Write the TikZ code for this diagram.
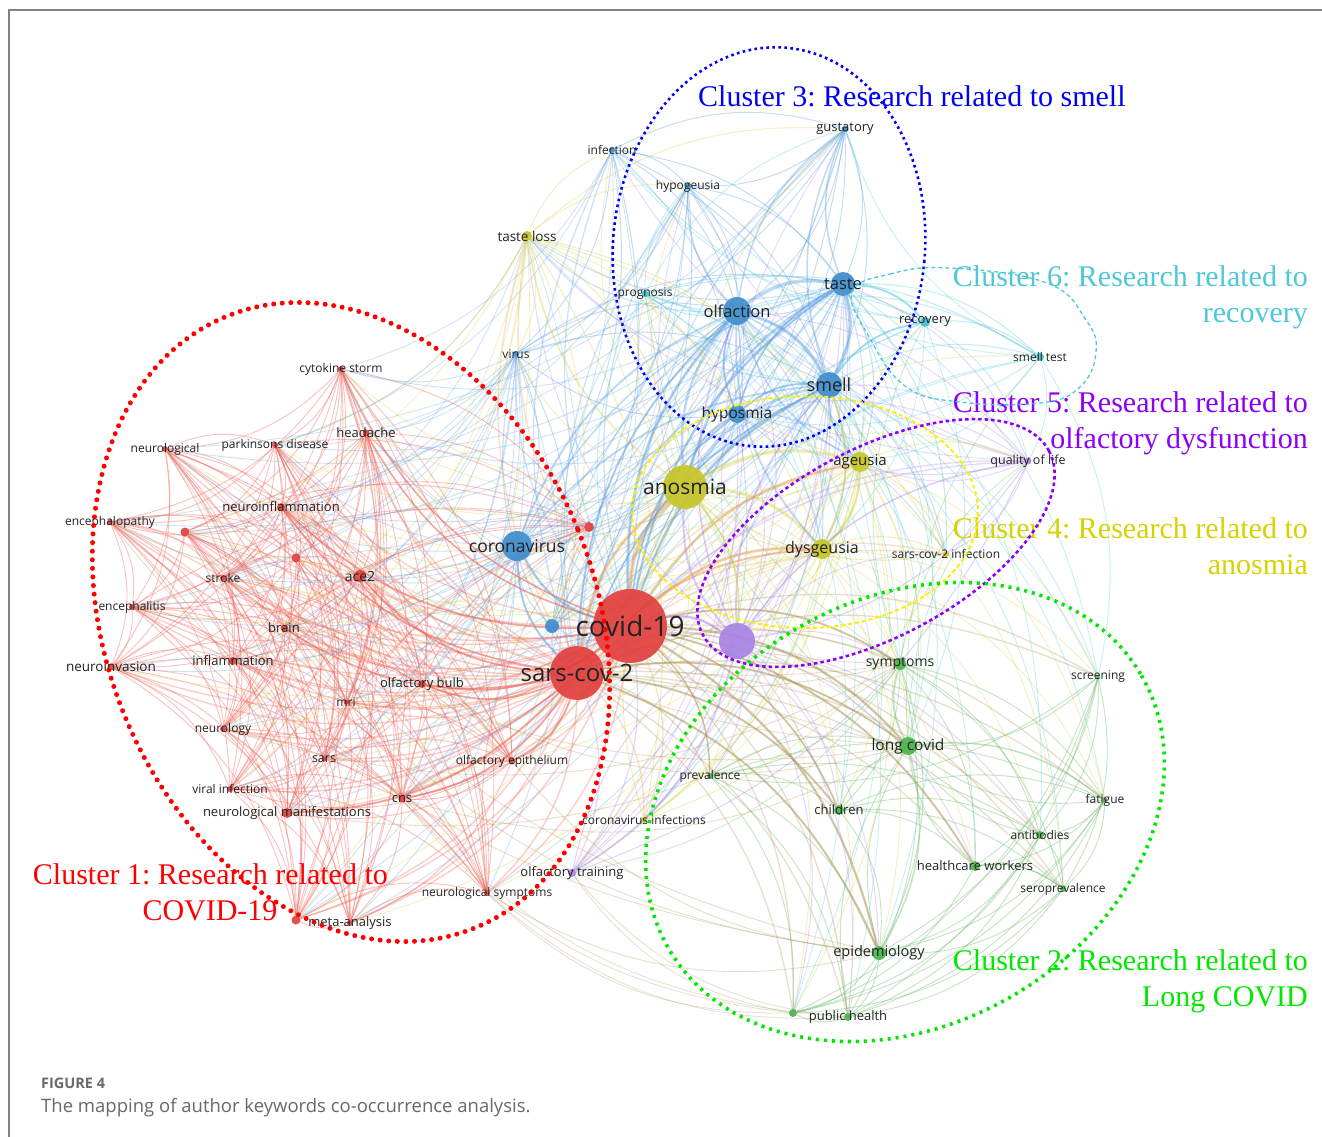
\documentclass[tikz,border=0pt]{standalone}
\usepackage{fontspec}
\setmainfont{Open Sans}
\newfontfamily\titlefont{Liberation Serif}
\frenchspacing

% node fills
\definecolor{nRed}{RGB}{225,62,60}
\definecolor{nBlue}{RGB}{62,140,205}
\definecolor{nYel}{RGB}{198,196,40}
\definecolor{nGreen}{RGB}{72,178,72}
\definecolor{nPurp}{RGB}{168,130,228}
\definecolor{nCyan}{RGB}{62,192,208}
% link colours
\definecolor{eRed}{RGB}{240,95,85}
\definecolor{eBlue}{RGB}{95,160,225}
\definecolor{eYel}{RGB}{212,208,60}
\definecolor{eGreen}{RGB}{100,185,100}
\definecolor{ePurp}{RGB}{170,125,240}
\definecolor{eCyan}{RGB}{75,200,215}
\definecolor{eOlive}{RGB}{175,150,90}
\definecolor{eOrange}{RGB}{230,160,80}
% cluster outlines and titles
\definecolor{cRed}{RGB}{255,0,0}
\definecolor{cBlue}{RGB}{0,0,245}
\definecolor{cGreen}{RGB}{0,232,0}
\definecolor{cPurp}{RGB}{140,0,250}
\definecolor{cYel}{RGB}{250,240,0}
\definecolor{tYel}{RGB}{215,210,0}
\definecolor{cCyan}{RGB}{78,200,214}
\definecolor{labcol}{RGB}{35,35,35}
\definecolor{capgray}{RGB}{105,105,105}
\definecolor{framegray}{RGB}{130,130,130}

\pgfdeclarelayer{paper}
\pgfdeclarelayer{edges}
\pgfdeclarelayer{labels}
\pgfdeclarelayer{top}
\pgfsetlayers{paper,edges,main,labels,top}

\tikzset{
  kwdot/.style={circle, draw=none, inner sep=0pt, fill opacity=0.92},
  kwlab/.style={inner sep=0pt, text=labcol},
  link/.style={draw=#1, draw opacity=0.38, line width=0.9pt},
  xlink/.style={draw=#1, draw opacity=0.3, line width=0.9pt},
  hublink/.style={draw=#1, draw opacity=0.4},
  cltitle/.style={inner sep=0pt, font=\titlefont\fontsize{30}{36}\selectfont},
  redring/.style={draw=cRed, line width=5pt, line cap=round, dash pattern=on 0pt off 8.6pt},
  bluering/.style={draw=cBlue, line width=2.6pt, dash pattern=on 2.6pt off 3.4pt},
  greenring/.style={draw=cGreen, line width=3.6pt, dash pattern=on 3pt off 5pt},
  purpring/.style={draw=cPurp, line width=2.6pt, dash pattern=on 3.5pt off 3pt},
  yelring/.style={draw=cYel, line width=2pt, dash pattern=on 4pt off 3pt},
  cyanring/.style={draw=cCyan, line width=1.3pt, dash pattern=on 4pt off 3pt},
}

% keyword: name, x, y, diameter, fill, label, font size
\newcommand\kw[7]{%
  \node[kwdot, fill=#5, minimum size=#4pt] (#1) at (#2,#3) {};
  \begin{pgfonlayer}{labels}
    \node[kwlab, font=\fontsize{#7}{#7}\selectfont] (#1-l) at (#2,#3) {#6};
  \end{pgfonlayer}}
% keyword whose label is hidden
\newcommand\kwu[5]{%
  \node[kwdot, fill=#5, minimum size=#4pt] (#1) at (#2,#3) {};}

% links inside one cluster: list, colour, how many of ten pairs are kept
\newcommand\mesh[3]{%
  \foreach \ea [count=\ci] in {#1}{%
    \foreach \eb [count=\cj] in {#1}{%
      \ifnum\cj>\ci
        \pgfmathtruncatemacro\kk{mod(\ci*7+\cj*11,10)}%
        \ifnum\kk<#3 \draw[link=#2] (\ea) to[bend left=22] (\eb);\fi
      \fi}}}
% links from hubs to a set of keywords: hubs, targets, colour, kept of ten, width
\newcommand\hubs[5]{%
  \foreach \hb [count=\ci] in {#1}{%
    \foreach \tg [count=\cj] in {#2}{%
      \edef\ta{\hb}\edef\tb{\tg}%
      \ifx\ta\tb\else
        \pgfmathtruncatemacro\kk{mod(\ci*3+\cj*7,10)}%
        \ifnum\kk<#4 \draw[xlink=#3, line width=#5pt] (\hb) to[bend left=22] (\tg);\fi
      \fi}}}

\begin{document}
\begin{tikzpicture}[x=1pt, y=-1pt]
\useasboundingbox (0,0) rectangle (1322,1137);
\begin{pgfonlayer}{paper}
\fill[white] (0,0) rectangle (1322,1137);
% page frame
\draw[framegray, line width=1.8pt] (9,1137) -- (9,10) -- (1322,10);
\end{pgfonlayer}

% ---------- keywords ----------
% cluster 1 (red)
\kw{covid}{630}{626}{74}{nRed}{covid-19}{28}
\kw{sarscov}{577}{673}{54}{nRed}{sars-cov-2}{24}
\kw{cytokine}{341}{369}{6}{nRed}{cytokine storm}{12}
\kw{headache}{366}{433}{7}{nRed}{headache}{13}
\kw{neurological}{165}{449}{6}{nRed}{neurological}{12}
\kw{parkinsons}{275}{445}{6}{nRed}{parkinsons disease}{12}
\kw{neuroinfl}{281}{507}{8}{nRed}{neuroinflammation}{13}
\kw{enceph}{110}{522}{6}{nRed}{encephalopathy}{12}
\kwu{rA}{185}{532}{9}{nRed}
\kw{stroke}{223}{578}{6}{nRed}{stroke}{12}
\kwu{rB}{296}{558}{9}{nRed}
\kw{ace}{360}{576}{12}{nRed}{ace2}{14}
\kw{encephalitis}{132}{607}{6}{nRed}{encephalitis}{12}
\kw{brain}{284}{628}{7}{nRed}{brain}{13}
\kw{neuroinv}{111}{667}{7}{nRed}{neuroinvasion}{13.5}
\kw{inflam}{233}{661}{8}{nRed}{inflammation}{13}
\kw{obulb}{422}{684}{8}{nRed}{olfactory bulb}{13}
\kw{mri}{346}{702}{5}{nRed}{mri}{12}
\kw{neurology}{223}{729}{6}{nRed}{neurology}{12}
\kw{sars}{324}{759}{5}{nRed}{sars}{12.5}
\kw{oepith}{512}{761}{7}{nRed}{olfactory epithelium}{12}
\kw{viralinf}{230}{789}{6}{nRed}{viral infection}{12}
\kw{cns}{402}{799}{7}{nRed}{cns}{13}
\kw{neuroman}{287}{813}{10}{nRed}{neurological manifestations}{13}
\kw{meta}{350}{923}{6}{nRed}{meta-analysis}{13}
\kwu{rC}{296}{920}{9}{nRed}
\kw{neurosym}{487}{893}{6}{nRed}{neurological symptoms}{12}
\kwu{rD}{589}{527}{10}{nRed}
% cluster 3 (blue)
\kw{infection}{612}{150}{6}{nBlue}{infection}{12}
\kw{gustatory}{845}{129}{7}{nBlue}{gustatory}{13}
\kw{hypogeusia}{688}{186}{7}{nBlue}{hypogeusia}{12}
\kw{taste}{843}{284}{24}{nBlue}{taste}{16.5}
\kw{olfaction}{737}{311}{28}{nBlue}{olfaction}{16.5}
\kw{smell}{829}{385}{26}{nBlue}{smell}{18}
\kw{hyposmia}{737}{414}{18}{nBlue}{hyposmia}{15.5}
\kw{coronavirus}{517}{546}{30}{nBlue}{coronavirus}{17.5}
\kw{virus}{516}{354}{6}{nBlue}{virus}{12}
\kwu{bA}{552}{626}{14}{nBlue}
% cluster 4 (yellow)
\kw{tasteloss}{527}{236}{10}{nYel}{taste loss}{13.5}
\kw{anosmia}{685}{487}{44}{nYel}{anosmia}{21}
\kw{ageusia}{860}{462}{20}{nYel}{ageusia}{15}
\kw{dysgeusia}{822}{549}{20}{nYel}{dysgeusia}{16}
\kw{sc2inf}{946}{554}{6}{nYel}{sars-cov-2 infection}{12}
\kw{covinf}{644}{820}{6}{nYel}{coronavirus infections}{12}
% cluster 5 (purple)
\kwu{pA}{737}{641}{36}{nPurp}
\kw{qol}{1028}{461}{7}{nPurp}{quality of life}{12.5}
\kw{otrain}{572}{873}{8}{nPurp}{olfactory training}{13}
% cluster 6 (cyan)
\kw{prognosis}{645}{294}{7}{nCyan}{prognosis}{12}
\kw{recovery}{925}{322}{10}{nCyan}{recovery}{13}
\kw{smelltest}{1040}{357}{8}{nCyan}{smell test}{12}
% cluster 2 (green)
\kw{symptoms}{900}{664}{12}{nGreen}{symptoms}{14}
\kw{screening}{1098}{677}{4}{nGreen}{screening}{12}
\kw{longcovid}{908}{746}{18}{nGreen}{long covid}{15.5}
\kw{prevalence}{710}{776}{6}{nGreen}{prevalence}{12}
\kw{children}{839}{810}{10}{nGreen}{children}{13}
\kw{fatigue}{1105}{800}{5}{nGreen}{fatigue}{12}
\kw{antibodies}{1040}{835}{8}{nGreen}{antibodies}{12}
\kw{hcw}{975}{866}{10}{nGreen}{healthcare workers}{13}
\kw{seroprev}{1063}{889}{6}{nGreen}{seroprevalence}{12}
\kw{epidem}{879}{953}{14}{nGreen}{epidemiology}{14.5}
\kw{pubhealth}{848}{1017}{8}{nGreen}{public health}{13}
\kwu{gA}{793}{1013}{8}{nGreen}

% ---------- co-occurrence links ----------
\begin{pgfonlayer}{edges}
\mesh{cytokine,headache,neurological,parkinsons,neuroinfl,enceph,rA,stroke,rB,ace,encephalitis,brain,neuroinv,inflam,obulb,mri,neurology,sars,oepith,viralinf,cns,neuroman,meta,rC,neurosym,rD}{eRed}{7}
\mesh{infection,gustatory,hypogeusia,hyposmia,virus,bA,taste,olfaction,smell,coronavirus}{eBlue}{10}
\mesh{tasteloss,ageusia,dysgeusia,sc2inf,covinf,anosmia}{eYel}{10}
\mesh{symptoms,screening,prevalence,children,fatigue,antibodies,hcw,seroprev,epidem,pubhealth,gA,longcovid}{eGreen}{8}
\mesh{prognosis,recovery,smelltest}{eCyan}{10}
\mesh{qol,otrain,pA}{ePurp}{10}

\hubs{covid,sarscov}{cytokine,headache,neurological,parkinsons,neuroinfl,enceph,rA,stroke,rB,ace,encephalitis,brain,neuroinv,inflam,obulb,mri,neurology,sars,oepith,viralinf,cns,neuroman,meta,rC,neurosym,rD}{eRed}{10}{1.4}
\hubs{covid,sarscov}{infection,gustatory,hypogeusia,hyposmia,virus,bA,taste,olfaction,smell,coronavirus}{eBlue}{10}{1.3}
\hubs{covid,sarscov}{tasteloss,ageusia,dysgeusia,sc2inf,covinf,anosmia}{eOrange}{10}{1.4}
\hubs{covid,sarscov}{symptoms,screening,prevalence,children,fatigue,antibodies,hcw,seroprev,epidem,pubhealth,gA,longcovid}{eOlive}{10}{1.3}
\hubs{covid,sarscov}{qol,otrain,pA}{ePurp}{10}{1.3}
\hubs{covid,sarscov}{prognosis,recovery,smelltest}{eCyan}{10}{1}
\hubs{olfaction,smell,taste}{cytokine,headache,neurological,parkinsons,neuroinfl,enceph,rA,stroke,rB,ace,encephalitis,brain,neuroinv,inflam,obulb,mri,neurology,sars,oepith,viralinf,cns,neuroman,meta,rC,neurosym,rD}{eBlue}{3}{0.9}
\hubs{coronavirus,virus}{cytokine,headache,neurological,parkinsons,neuroinfl,enceph,rA,stroke,rB,ace,encephalitis,brain,neuroinv,inflam,obulb,mri,neurology,sars,oepith,viralinf,cns,neuroman,meta,rC,neurosym,rD}{eBlue}{6}{0.9}
\hubs{infection,hypogeusia,gustatory,tasteloss}{cytokine,headache,neurological,parkinsons,neuroinfl,enceph,stroke,ace,brain,neuroinv,obulb,cns,neuroman,oepith}{eBlue}{2}{0.8}
\hubs{olfaction,smell,taste,hyposmia}{tasteloss,ageusia,dysgeusia,sc2inf,covinf,anosmia}{eBlue}{8}{1.1}
\hubs{olfaction,smell,taste}{prognosis,recovery,smelltest}{eCyan}{10}{1.1}
\hubs{olfaction,smell,taste}{symptoms,screening,prevalence,children,fatigue,antibodies,hcw,seroprev,epidem,pubhealth,gA,longcovid}{eCyan}{4}{0.9}
\hubs{olfaction,smell,taste,hyposmia}{qol,otrain,pA}{ePurp}{10}{1}
\hubs{anosmia,ageusia,dysgeusia,tasteloss}{cytokine,headache,neurological,parkinsons,neuroinfl,enceph,rA,stroke,rB,ace,encephalitis,brain,neuroinv,inflam,obulb,mri,neurology,sars,oepith,viralinf,cns,neuroman,meta,rC,neurosym,rD}{eYel}{3}{0.9}
\hubs{anosmia,ageusia,dysgeusia}{symptoms,screening,prevalence,children,fatigue,antibodies,hcw,seroprev,epidem,pubhealth,gA,longcovid}{eYel}{5}{0.9}
\hubs{anosmia,tasteloss}{infection,gustatory,hypogeusia,hyposmia,virus,bA}{eYel}{10}{1}
\hubs{anosmia,ageusia}{qol,otrain,pA,prognosis,recovery,smelltest}{eYel}{8}{1}
\hubs{pA}{symptoms,screening,prevalence,children,fatigue,antibodies,hcw,seroprev,epidem,pubhealth,gA,longcovid}{ePurp}{7}{1}
\hubs{pA,qol}{tasteloss,ageusia,dysgeusia,sc2inf,infection,gustatory,hypogeusia,hyposmia}{ePurp}{7}{0.9}
\hubs{longcovid,symptoms,epidem}{cytokine,headache,neurological,parkinsons,neuroinfl,enceph,stroke,ace,brain,inflam,obulb,neurology,oepith,cns,neuroman,neurosym}{eOlive}{3}{0.9}
\hubs{longcovid,symptoms}{prognosis,recovery,smelltest,qol,otrain}{eGreen}{7}{0.9}
\hubs{recovery,smelltest,prognosis}{infection,gustatory,hypogeusia,hyposmia,ageusia,dysgeusia,qol,screening,symptoms,longcovid}{eCyan}{6}{0.9}
% long arcs below the red cluster
\hubs{gA,pubhealth}{neurosym,cns,otrain}{eOlive}{10}{0.8}

% stronger links
\foreach \ea/\eb/\cl/\lw in {
  covid/sarscov/eRed/5, covid/anosmia/eOrange/4, sarscov/anosmia/eOrange/3,
  covid/olfaction/eBlue/3, covid/smell/eBlue/2.5, covid/taste/eBlue/2.5,
  olfaction/smell/eBlue/3.5, olfaction/taste/eBlue/3.5, taste/smell/eBlue/3.5,
  anosmia/ageusia/eYel/3, anosmia/dysgeusia/eYel/3, ageusia/dysgeusia/eYel/2.5,
  anosmia/olfaction/eBlue/2.5, anosmia/smell/eBlue/2.5, anosmia/hyposmia/eBlue/2,
  hyposmia/olfaction/eBlue/2, hyposmia/smell/eBlue/2, covid/coronavirus/eBlue/2.5,
  sarscov/coronavirus/eBlue/2, coronavirus/olfaction/eBlue/2, covid/pA/ePurp/2.5,
  covid/longcovid/eOlive/2.5, sarscov/longcovid/eOlive/2, covid/epidem/eOlive/2.5,
  sarscov/children/eOlive/2, covid/hcw/eOlive/2, covid/dysgeusia/eOrange/3,
  sarscov/dysgeusia/eOrange/2, covid/ageusia/eOrange/2.5, cns/oepith/eRed/2.5,
  sarscov/cns/eRed/2, sarscov/neuroman/eRed/2, covid/neuroinfl/eRed/2,
  sarscov/ace/eRed/2, covid/obulb/eRed/2, taste/recovery/eCyan/2,
  smell/recovery/eCyan/2, pA/anosmia/ePurp/2, longcovid/symptoms/eGreen/2,
  longcovid/fatigue/eGreen/1.5, taste/gustatory/eBlue/1.5, smell/dysgeusia/eYel/2,
  covid/symptoms/eOlive/2, sarscov/oepith/eRed/2, covid/prevalence/eOlive/1.5,
  olfaction/gustatory/eBlue/1.5, smell/gustatory/eBlue/1.5, olfaction/hypogeusia/eBlue/1.5,
  coronavirus/smell/eBlue/1.8, coronavirus/taste/eBlue/1.5, anosmia/taste/eBlue/2,
  hyposmia/taste/eBlue/1.8, anosmia/tasteloss/eYel/1.5, dysgeusia/olfaction/eBlue/1.8,
  ageusia/smell/eBlue/1.8, ageusia/olfaction/eBlue/1.5, sarscov/olfaction/eBlue/2,
  sarscov/smell/eBlue/1.8, covid/hyposmia/eBlue/1.8, sarscov/epidem/eOlive/2,
  covid/children/eOlive/1.8, sarscov/neuroinfl/eRed/1.8, covid/headache/eRed/1.5,
  sarscov/brain/eRed/1.5, covid/cytokine/eRed/1.5, sarscov/obulb/eRed/1.8,
  pA/smell/ePurp/1.8, pA/olfaction/ePurp/1.5, pA/otrain/ePurp/1.8, pA/qol/ePurp/1.5,
  longcovid/epidem/eGreen/1.5, hcw/seroprev/eGreen/1.2, anosmia/pA/eYel/1.8}
  {\draw[hublink=\cl, line width=\lw pt] (\ea) to[bend left=22] (\eb);}
\end{pgfonlayer}

% ---------- cluster titles ----------
\begin{pgfonlayer}{top}
\node[cltitle, text=cBlue, anchor=base west] (t3) at (698,107) {Cluster 3: Research related to smell};
\node[cltitle, text=cCyan, anchor=base east] (t6a) at (1308,286) {Cluster 6: Research related to};
\node[cltitle, text=cCyan, anchor=base east] (t6b) at (1308,322) {recovery};
\node[cltitle, text=cPurp, anchor=base east] (t5a) at (1308,412) {Cluster 5: Research related to};
\node[cltitle, text=cPurp, anchor=base east] (t5b) at (1308,448) {olfactory dysfunction};
\node[cltitle, text=tYel, anchor=base east] (t4a) at (1308,538) {Cluster 4: Research related to};
\node[cltitle, text=tYel, anchor=base east] (t4b) at (1308,574) {anosmia};
\node[cltitle, text=cGreen, anchor=base east] (t2a) at (1308,970) {Cluster 2: Research related to};
\node[cltitle, text=cGreen, anchor=base east] (t2b) at (1308,1006) {Long COVID};
\node[cltitle, text=cRed, anchor=base east] (t1a) at (388,884) {Cluster 1: Research related to};
\node[cltitle, text=cRed, anchor=base] (t1b) at (210,920) {COVID-19};

% ---------- cluster outlines ----------
\draw[redring, rotate around={22:(351,622)}] (351,622) ellipse [x radius=245, y radius=330];
\draw[bluering, rotate around={-5:(769,247)}] (769,247) ellipse [x radius=156, y radius=200];
\draw[yelring] (805,512) ellipse [x radius=173, y radius=116];
\draw[purpring, rotate around={28:(876,543)}] (876,543) ellipse [x radius=196, y radius=94];
\draw[greenring, rotate around={30:(905,812)}] (905,812) ellipse [x radius=273, y radius=213];
\draw[cyanring] plot[smooth cycle, tension=0.7] coordinates {
  (852,292) (890,274) (950,268) (1047,283) (1086,320) (1096,352)
  (1080,387) (1040,403) (960,402) (905,386) (868,335)};

% ---------- caption ----------
\node[anchor=base west, inner sep=0pt, text=capgray, font=\fontsize{14.5}{14.5}\selectfont\bfseries] (figno) at (41,1088) {FIGURE 4};
\node[anchor=base west, inner sep=0pt, text=capgray, font=\fontsize{18.5}{21}\selectfont] (figcap) at (41,1112) {The mapping of author keywords co-occurrence analysis.};
\end{pgfonlayer}
\end{tikzpicture}
\end{document}
